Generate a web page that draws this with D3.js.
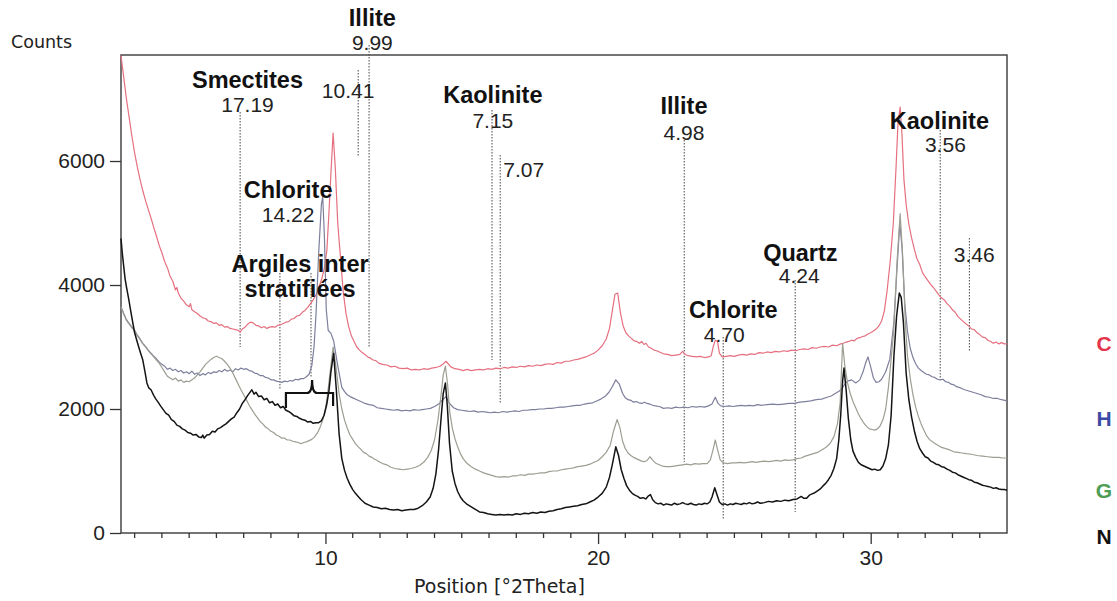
<!DOCTYPE html>
<html>
<head>
<meta charset="utf-8">
<script src="https://cdn.jsdelivr.net/npm/d3@7"></script>
<style>
  html, body { margin: 0; padding: 0; background: #fff; }
  svg { display: block; }
</style>
</head>
<body>
<svg id="chart" width="1117" height="601"></svg>
<script>
// XRD diffractograms of four clay preparations, [°2Theta, counts]
const seriesC = [[2.5,7700],[2.6,7350],[2.7,7000],[2.8,6700],[2.9,6400],[3.0,6130],[3.1,5900],[3.2,5700],[3.3,5520],[3.4,5360],[3.5,5220],[3.6,5080],[3.7,4930],[3.8,4790],[3.9,4640],[4.0,4520],[4.1,4380],[4.2,4280],[4.3,4140],[4.4,4060],[4.5,3920],[4.55,3960],[4.6,3870],[4.7,3790],[4.8,3740],[4.9,3680],[5.0,3650],[5.05,3700],[5.1,3600],[5.2,3570],[5.3,3540],[5.4,3500],[5.5,3470],[5.6,3460],[5.7,3420],[5.8,3410],[5.9,3380],[6.0,3390],[6.1,3350],[6.2,3360],[6.3,3320],[6.4,3330],[6.5,3300],[6.6,3290],[6.7,3280],[6.8,3270],[6.87,3240],[6.95,3290],[7.05,3320],[7.15,3370],[7.25,3400],[7.35,3390],[7.45,3350],[7.55,3340],[7.65,3310],[7.75,3330],[7.85,3300],[7.95,3320],[8.05,3330],[8.15,3320],[8.25,3350],[8.35,3360],[8.45,3380],[8.55,3400],[8.65,3410],[8.75,3450],[8.85,3460],[8.95,3500],[9.05,3510],[9.15,3560],[9.25,3590],[9.35,3640],[9.45,3700],[9.55,3760],[9.65,3840],[9.75,3950],[9.85,4080],[9.95,4250],[10.05,4550],[10.12,5100],[10.2,5800],[10.28,6450],[10.36,5900],[10.45,5000],[10.55,4450],[10.65,3900],[10.75,3550],[10.85,3330],[10.95,3180],[11.05,3090],[11.15,3000],[11.25,2950],[11.35,2910],[11.45,2880],[11.55,2840],[11.65,2820],[11.75,2790],[11.85,2780],[11.95,2740],[12.1,2720],[12.25,2710],[12.4,2680],[12.55,2690],[12.7,2660],[12.85,2650],[13.0,2660],[13.15,2630],[13.3,2640],[13.45,2630],[13.6,2650],[13.75,2640],[13.9,2660],[14.05,2670],[14.2,2690],[14.3,2720],[14.42,2770],[14.5,2730],[14.6,2680],[14.75,2650],[14.9,2640],[15.05,2620],[15.2,2640],[15.35,2620],[15.5,2630],[15.65,2640],[15.8,2630],[15.95,2650],[16.1,2640],[16.25,2660],[16.4,2650],[16.55,2670],[16.7,2660],[16.85,2680],[17.0,2670],[17.15,2690],[17.3,2680],[17.45,2700],[17.6,2690],[17.75,2710],[17.9,2700],[18.05,2720],[18.2,2730],[18.35,2720],[18.5,2750],[18.65,2740],[18.8,2770],[18.95,2770],[19.1,2790],[19.25,2800],[19.4,2820],[19.55,2840],[19.7,2870],[19.85,2900],[20.0,2950],[20.15,3020],[20.3,3130],[20.42,3300],[20.52,3580],[20.62,3850],[20.72,3870],[20.82,3550],[20.92,3340],[21.02,3230],[21.12,3180],[21.22,3140],[21.32,3100],[21.42,3090],[21.52,3060],[21.6,3090],[21.68,3040],[21.76,3060],[21.85,3000],[21.95,2980],[22.05,2950],[22.15,2940],[22.25,2920],[22.4,2890],[22.55,2880],[22.7,2860],[22.85,2870],[23.0,2880],[23.1,2930],[23.2,2880],[23.3,2860],[23.45,2850],[23.6,2840],[23.75,2850],[23.9,2830],[24.05,2840],[24.15,2860],[24.22,3000],[24.3,3110],[24.38,3090],[24.45,2900],[24.55,2840],[24.7,2850],[24.85,2860],[25.0,2850],[25.15,2870],[25.3,2880],[25.45,2870],[25.6,2890],[25.75,2880],[25.9,2910],[26.05,2900],[26.2,2920],[26.35,2910],[26.5,2930],[26.65,2920],[26.8,2940],[26.95,2930],[27.1,2950],[27.25,2940],[27.4,2960],[27.55,2970],[27.7,2960],[27.85,2990],[28.0,2980],[28.15,3000],[28.3,3010],[28.45,3000],[28.6,3030],[28.75,3020],[28.9,3050],[29.0,3060],[29.1,3080],[29.2,3090],[29.3,3110],[29.4,3100],[29.5,3140],[29.6,3150],[29.7,3170],[29.8,3180],[29.9,3210],[30.0,3230],[30.1,3260],[30.2,3290],[30.3,3340],[30.4,3420],[30.5,3580],[30.6,3900],[30.72,4400],[30.83,5000],[30.93,5900],[31.0,6600],[31.08,6870],[31.15,6400],[31.22,5700],[31.3,5300],[31.4,4980],[31.5,4760],[31.6,4580],[31.7,4420],[31.8,4330],[31.9,4200],[32.0,4130],[32.1,4070],[32.2,4010],[32.3,3960],[32.4,3900],[32.5,3840],[32.6,3790],[32.7,3760],[32.8,3700],[32.9,3660],[33.0,3600],[33.1,3560],[33.2,3490],[33.3,3450],[33.4,3410],[33.5,3370],[33.6,3340],[33.7,3290],[33.8,3280],[33.9,3230],[34.0,3200],[34.1,3160],[34.2,3150],[34.3,3110],[34.4,3090],[34.5,3060],[34.6,3080],[34.7,3050],[34.8,3070],[34.9,3050],[35.0,3050]];

const seriesH = [[2.5,3650],[2.6,3540],[2.7,3440],[2.8,3380],[2.9,3320],[3.0,3270],[3.1,3190],[3.2,3130],[3.3,3060],[3.4,3010],[3.5,2950],[3.6,2900],[3.7,2850],[3.8,2810],[3.9,2760],[4.0,2720],[4.1,2690],[4.2,2640],[4.3,2660],[4.4,2620],[4.5,2640],[4.6,2600],[4.7,2620],[4.8,2580],[4.9,2600],[5.0,2570],[5.1,2610],[5.2,2560],[5.3,2580],[5.4,2540],[5.5,2570],[5.6,2550],[5.7,2590],[5.8,2570],[5.9,2600],[6.0,2590],[6.1,2620],[6.2,2600],[6.3,2640],[6.4,2610],[6.5,2630],[6.6,2600],[6.7,2650],[6.8,2630],[6.9,2660],[7.0,2640],[7.1,2650],[7.2,2620],[7.3,2610],[7.4,2580],[7.5,2570],[7.6,2540],[7.7,2540],[7.8,2510],[7.9,2500],[8.0,2470],[8.1,2470],[8.2,2450],[8.3,2440],[8.4,2430],[8.5,2450],[8.6,2440],[8.7,2460],[8.8,2450],[8.9,2480],[9.0,2470],[9.1,2490],[9.2,2490],[9.3,2520],[9.4,2560],[9.5,2700],[9.58,3000],[9.65,3500],[9.75,4500],[9.85,5300],[9.9,5420],[9.96,4800],[10.03,3600],[10.1,3270],[10.2,3220],[10.3,3100],[10.45,2700],[10.6,2350],[10.7,2280],[10.8,2230],[10.9,2200],[11.0,2180],[11.15,2150],[11.3,2120],[11.45,2090],[11.6,2070],[11.75,2060],[11.9,2020],[12.05,2010],[12.2,2000],[12.35,1990],[12.5,1980],[12.65,1990],[12.8,1970],[12.95,1980],[13.1,1970],[13.25,1990],[13.4,1980],[13.55,1990],[13.7,2000],[13.85,2010],[14.0,2040],[14.15,2080],[14.3,2150],[14.42,2200],[14.55,2090],[14.7,2020],[14.85,1990],[15.0,1980],[15.15,1970],[15.3,1960],[15.45,1970],[15.6,1950],[15.75,1960],[15.9,1950],[16.05,1940],[16.2,1950],[16.35,1940],[16.5,1960],[16.65,1950],[16.8,1960],[16.95,1970],[17.1,1960],[17.25,1980],[17.4,1980],[17.55,1990],[17.7,1990],[17.85,2000],[18.0,2000],[18.15,2010],[18.3,2010],[18.45,2020],[18.6,2030],[18.75,2030],[18.9,2040],[19.05,2050],[19.2,2060],[19.35,2060],[19.5,2080],[19.65,2090],[19.8,2100],[19.95,2130],[20.1,2160],[20.25,2200],[20.4,2270],[20.52,2360],[20.65,2470],[20.78,2400],[20.9,2250],[21.0,2180],[21.1,2150],[21.2,2140],[21.3,2110],[21.4,2120],[21.5,2100],[21.6,2090],[21.7,2110],[21.8,2090],[21.9,2080],[22.0,2060],[22.1,2050],[22.25,2040],[22.4,2010],[22.55,2020],[22.7,2010],[22.85,2030],[23.0,2020],[23.15,2030],[23.3,2020],[23.45,2040],[23.6,2030],[23.75,2040],[23.9,2030],[24.05,2050],[24.18,2080],[24.3,2190],[24.4,2090],[24.5,2050],[24.65,2040],[24.8,2050],[24.95,2040],[25.1,2050],[25.25,2060],[25.4,2050],[25.55,2060],[25.7,2050],[25.85,2070],[26.0,2060],[26.2,2070],[26.4,2080],[26.6,2070],[26.8,2080],[27.0,2090],[27.2,2090],[27.4,2110],[27.6,2120],[27.8,2130],[28.0,2150],[28.2,2160],[28.4,2190],[28.55,2210],[28.7,2250],[28.85,2290],[28.95,2330],[29.05,2400],[29.15,2450],[29.3,2470],[29.45,2420],[29.6,2470],[29.72,2600],[29.82,2750],[29.9,2840],[30.0,2680],[30.1,2500],[30.2,2430],[30.3,2440],[30.4,2480],[30.55,2600],[30.7,2800],[30.85,3400],[30.97,4300],[31.07,5000],[31.15,4600],[31.25,3700],[31.35,3250],[31.45,2980],[31.55,2830],[31.65,2730],[31.75,2660],[31.85,2620],[31.95,2590],[32.05,2560],[32.15,2550],[32.25,2520],[32.35,2510],[32.45,2480],[32.55,2470],[32.65,2480],[32.75,2440],[32.85,2430],[32.95,2400],[33.05,2390],[33.15,2360],[33.3,2340],[33.45,2310],[33.6,2290],[33.75,2270],[33.9,2250],[34.05,2230],[34.2,2200],[34.35,2190],[34.5,2170],[34.65,2170],[34.8,2150],[35.0,2130]];

const seriesG = [[2.5,3640],[2.6,3530],[2.7,3430],[2.8,3370],[2.9,3310],[3.0,3260],[3.1,3180],[3.2,3120],[3.3,3050],[3.4,3000],[3.5,2940],[3.6,2890],[3.7,2840],[3.8,2790],[3.9,2740],[4.0,2670],[4.1,2600],[4.2,2530],[4.3,2500],[4.4,2470],[4.5,2500],[4.6,2450],[4.7,2470],[4.8,2430],[4.9,2450],[5.0,2440],[5.1,2470],[5.2,2500],[5.3,2550],[5.4,2600],[5.5,2660],[5.6,2720],[5.7,2760],[5.8,2800],[5.9,2830],[6.0,2850],[6.1,2830],[6.2,2810],[6.3,2770],[6.4,2720],[6.5,2660],[6.6,2580],[6.7,2490],[6.8,2400],[6.9,2310],[7.0,2230],[7.1,2150],[7.2,2060],[7.3,1990],[7.4,1920],[7.5,1860],[7.6,1800],[7.7,1760],[7.8,1710],[7.9,1680],[8.0,1640],[8.1,1620],[8.2,1580],[8.3,1560],[8.4,1530],[8.5,1530],[8.6,1500],[8.7,1500],[8.8,1480],[8.9,1470],[9.0,1460],[9.1,1440],[9.2,1460],[9.3,1470],[9.4,1490],[9.5,1510],[9.6,1550],[9.7,1610],[9.8,1700],[9.9,1820],[10.0,2000],[10.08,2250],[10.16,2550],[10.28,3000],[10.38,2700],[10.5,2250],[10.6,2000],[10.7,1820],[10.8,1690],[10.9,1580],[11.0,1510],[11.1,1440],[11.2,1390],[11.3,1350],[11.4,1300],[11.5,1280],[11.6,1240],[11.7,1220],[11.8,1190],[11.9,1170],[12.0,1140],[12.1,1120],[12.25,1100],[12.4,1060],[12.55,1040],[12.7,1030],[12.85,1020],[13.0,1030],[13.15,1040],[13.3,1060],[13.45,1090],[13.6,1140],[13.75,1220],[13.88,1330],[14.0,1500],[14.12,1800],[14.22,2150],[14.32,2550],[14.4,2690],[14.48,2400],[14.56,1950],[14.65,1700],[14.75,1520],[14.85,1390],[14.95,1280],[15.05,1200],[15.2,1120],[15.35,1070],[15.5,1030],[15.65,1000],[15.8,970],[15.95,950],[16.1,930],[16.25,910],[16.4,900],[16.55,910],[16.7,900],[16.85,920],[17.0,920],[17.15,940],[17.3,930],[17.45,950],[17.6,950],[17.75,960],[17.9,970],[18.05,970],[18.2,990],[18.35,1000],[18.5,1000],[18.65,1020],[18.8,1030],[18.95,1040],[19.1,1050],[19.25,1070],[19.4,1080],[19.55,1090],[19.7,1110],[19.85,1140],[20.0,1170],[20.15,1230],[20.3,1300],[20.45,1420],[20.57,1650],[20.7,1830],[20.8,1700],[20.9,1480],[21.0,1360],[21.1,1290],[21.2,1250],[21.3,1220],[21.4,1200],[21.5,1180],[21.6,1160],[21.7,1150],[21.8,1170],[21.9,1230],[22.0,1180],[22.1,1130],[22.2,1110],[22.35,1080],[22.5,1070],[22.65,1070],[22.8,1080],[22.95,1090],[23.1,1100],[23.25,1110],[23.4,1100],[23.55,1120],[23.7,1110],[23.85,1120],[24.0,1120],[24.12,1180],[24.22,1350],[24.3,1500],[24.38,1350],[24.48,1180],[24.6,1130],[24.75,1120],[24.9,1130],[25.05,1130],[25.2,1140],[25.35,1130],[25.5,1140],[25.65,1150],[25.8,1140],[25.95,1150],[26.1,1160],[26.25,1150],[26.4,1160],[26.55,1170],[26.7,1160],[26.85,1180],[27.0,1170],[27.15,1180],[27.3,1200],[27.45,1210],[27.6,1240],[27.75,1260],[27.9,1280],[28.05,1300],[28.2,1340],[28.35,1380],[28.5,1440],[28.65,1550],[28.78,1760],[28.88,2100],[28.97,3060],[29.05,2700],[29.15,2420],[29.25,2250],[29.35,2120],[29.45,2020],[29.55,1920],[29.65,1840],[29.75,1770],[29.85,1720],[29.95,1680],[30.05,1670],[30.15,1660],[30.25,1680],[30.35,1730],[30.45,1830],[30.55,2000],[30.65,2350],[30.75,2800],[30.85,3300],[30.97,4400],[31.08,5150],[31.17,4500],[31.27,3400],[31.35,2850],[31.45,2500],[31.55,2230],[31.65,2030],[31.75,1880],[31.85,1760],[31.95,1660],[32.05,1570],[32.15,1510],[32.3,1460],[32.45,1420],[32.6,1380],[32.75,1360],[32.9,1340],[33.05,1310],[33.2,1300],[33.35,1290],[33.5,1280],[33.7,1270],[33.9,1250],[34.1,1240],[34.3,1230],[34.5,1220],[34.7,1220],[34.85,1210],[35.0,1210]];

const seriesN = [[2.5,4750],[2.55,4500],[2.6,4300],[2.65,4100],[2.7,3970],[2.78,3780],[2.85,3600],[2.92,3420],[3.0,3230],[3.07,3120],[3.15,3000],[3.22,2900],[3.3,2790],[3.38,2600],[3.45,2420],[3.52,2340],[3.6,2310],[3.7,2220],[3.78,2160],[3.86,2110],[3.95,2050],[4.05,1990],[4.15,1930],[4.25,1900],[4.35,1830],[4.45,1800],[4.55,1740],[4.65,1720],[4.75,1680],[4.85,1660],[4.95,1620],[5.05,1610],[5.15,1580],[5.25,1590],[5.35,1550],[5.45,1540],[5.5,1580],[5.55,1530],[5.65,1580],[5.75,1590],[5.85,1640],[5.95,1630],[6.05,1680],[6.15,1700],[6.25,1730],[6.35,1760],[6.45,1800],[6.55,1840],[6.65,1870],[6.75,1940],[6.85,2000],[6.95,2090],[7.05,2150],[7.15,2220],[7.25,2280],[7.3,2310],[7.38,2240],[7.45,2270],[7.55,2200],[7.65,2210],[7.75,2150],[7.85,2170],[7.95,2100],[8.05,2120],[8.15,2060],[8.25,2080],[8.35,2020],[8.45,2040],[8.55,1980],[8.65,1960],[8.75,1930],[8.85,1890],[8.95,1880],[9.05,1850],[9.15,1830],[9.25,1820],[9.35,1790],[9.45,1800],[9.55,1770],[9.65,1780],[9.75,1780],[9.85,1810],[9.95,1900],[10.05,2080],[10.13,2300],[10.2,2600],[10.3,2900],[10.4,2300],[10.5,1600],[10.6,1200],[10.7,1010],[10.8,880],[10.9,780],[11.0,700],[11.1,640],[11.2,590],[11.3,540],[11.45,480],[11.6,450],[11.75,420],[11.9,410],[12.05,390],[12.2,400],[12.35,380],[12.5,370],[12.65,380],[12.8,360],[12.95,370],[13.1,380],[13.25,380],[13.4,400],[13.55,440],[13.7,500],[13.84,580],[13.95,720],[14.05,950],[14.15,1350],[14.25,1900],[14.32,2250],[14.4,2420],[14.47,2050],[14.55,1450],[14.65,1000],[14.75,800],[14.85,670],[14.95,580],[15.05,520],[15.2,460],[15.35,420],[15.5,380],[15.65,340],[15.8,330],[15.95,310],[16.1,300],[16.25,290],[16.4,300],[16.55,290],[16.7,300],[16.85,290],[17.0,310],[17.15,300],[17.3,320],[17.45,310],[17.6,330],[17.75,320],[17.9,340],[18.05,330],[18.2,350],[18.35,360],[18.5,380],[18.65,390],[18.8,410],[18.95,420],[19.1,430],[19.25,440],[19.4,460],[19.55,470],[19.7,500],[19.85,530],[20.0,580],[20.15,640],[20.3,740],[20.42,900],[20.52,1100],[20.65,1390],[20.75,1250],[20.85,1020],[20.95,880],[21.05,760],[21.15,690],[21.25,640],[21.35,610],[21.45,590],[21.55,560],[21.65,570],[21.75,550],[21.85,600],[21.92,620],[22.0,540],[22.1,490],[22.2,470],[22.3,480],[22.4,450],[22.5,470],[22.6,460],[22.7,450],[22.8,480],[22.9,460],[23.0,470],[23.1,490],[23.2,470],[23.3,460],[23.4,480],[23.5,460],[23.6,450],[23.7,470],[23.8,460],[23.9,480],[24.0,470],[24.1,500],[24.18,580],[24.28,730],[24.36,620],[24.45,500],[24.55,460],[24.65,470],[24.75,450],[24.85,470],[24.95,460],[25.05,480],[25.15,470],[25.25,460],[25.35,480],[25.45,470],[25.55,490],[25.65,470],[25.75,480],[25.85,500],[25.95,480],[26.1,490],[26.25,510],[26.4,500],[26.55,520],[26.7,510],[26.85,530],[27.0,520],[27.15,540],[27.3,550],[27.45,590],[27.55,560],[27.65,560],[27.75,610],[27.85,630],[27.95,650],[28.05,680],[28.15,710],[28.25,760],[28.35,800],[28.45,860],[28.55,930],[28.65,1040],[28.75,1200],[28.83,1500],[28.9,1900],[28.97,2450],[29.02,2660],[29.1,2300],[29.18,1850],[29.27,1500],[29.35,1320],[29.45,1220],[29.55,1140],[29.65,1100],[29.75,1080],[29.85,1060],[29.95,1040],[30.05,1020],[30.15,1030],[30.25,1010],[30.35,1020],[30.45,1080],[30.55,1200],[30.65,1420],[30.75,1900],[30.85,2840],[30.95,3500],[31.05,3870],[31.12,3800],[31.2,3400],[31.3,2580],[31.4,2150],[31.5,1870],[31.6,1650],[31.7,1480],[31.8,1360],[31.9,1290],[32.0,1230],[32.1,1210],[32.2,1160],[32.3,1140],[32.4,1110],[32.5,1100],[32.6,1070],[32.7,1060],[32.8,1030],[32.9,1010],[33.0,980],[33.1,970],[33.2,940],[33.3,920],[33.4,900],[33.5,880],[33.6,860],[33.7,850],[33.8,820],[33.9,810],[34.0,790],[34.1,770],[34.2,760],[34.3,750],[34.4,740],[34.5,720],[34.6,730],[34.7,710],[34.8,700],[34.9,700],[35.0,690]];

const seriesNames = ["C", "H", "G", "N"];
const xTickValues = [10, 20, 30];
const yTickValues = [0, 2000, 4000, 6000];

// Reflection markers: d-spacing (Å), line position (°2Theta) and extent (counts),
// mineral name and label anchors (°2Theta, counts at text baseline)
const peakMarks = [
  { d: "17.19", name: "Smectites", at: 6.87, from: 3000, to: 6790, lx: 7.14, ly: 6790, ny: 7177 },
  { d: "14.22", name: "Chlorite", at: 8.33, from: 2306, to: 4194, lx: 8.63, ly: 5016, ny: 5403 },
  { d: "", name: "", at: 9.47, from: 2500, to: 4194 },
  { d: "10.41", name: "", at: 11.20, from: 6065, to: 7468, lx: 10.83, ly: 7016 },
  { d: "9.99", name: "Illite", at: 11.60, from: 2984, to: 7871, lx: 11.72, ly: 7790, ny: 8177 },
  { d: "7.15", name: "Kaolinite", at: 16.11, from: 2790, to: 6823, lx: 16.14, ly: 6532, ny: 6935 },
  { d: "7.07", name: "", at: 16.41, from: 2097, to: 6097, lx: 16.52, ly: 5742, start: true },
  { d: "4.98", name: "Illite", at: 23.16, from: 1145, to: 6339, lx: 23.15, ly: 6339, ny: 6758 },
  { d: "4.70", name: "Chlorite", at: 24.59, from: 210, to: 3161, lx: 24.63, ly: 3081, ny: 3468, nx: 24.96 },
  { d: "4.24", name: "Quartz", at: 27.23, from: 339, to: 4081, lx: 27.38, ly: 4032, ny: 4387, nx: 27.42 },
  { d: "3.56", name: "Kaolinite", at: 32.55, from: 2468, to: 6500, lx: 32.74, ly: 6145, ny: 6516, nx: 32.52 },
  { d: "3.46", name: "", at: 33.62, from: 2919, to: 4758, lx: 33.80, ly: 4371 }
];

const groupLabel = { lines: ["Argiles inter", "stratifiées"], x: 9.07, y: [4210, 3806] };
// brace spanning the interstratified reflections
const brace = { x0: 8.55, xm: 9.51, x1: 10.28, base: 2016, bar: 2258, tip: 2468, end: 2050 };

const svg = d3.select("#chart");
const margin = { left: 121, top: 55, right: 110, bottom: 68 };
const W = 1117, H = 601;

const x = d3.scaleLinear().domain([2.5, 35]).range([margin.left, W - margin.right]);
const y = d3.scaleLinear().domain([0, 7710]).range([H - margin.bottom, margin.top]);

const colors = { C: "#e5707f", H: "#7d7f9c", G: "#9c9e92", N: "#141414" };
const widths = { C: 1.2, H: 1.2, G: 1.2, N: 1.5 };
const legendColors = { C: "#e3344c", H: "#3c4aa6", G: "#4d9d55", N: "#111" };

const line = d3.line().x(d => x(d[0])).y(d => y(d[1]));

// plot frame
svg.append("rect")
  .attr("x", x(2.5)).attr("y", y(7710))
  .attr("width", x(35) - x(2.5)).attr("height", y(0) - y(7710))
  .attr("fill", "none").attr("stroke", "#3a3a3a").attr("stroke-width", 1.4);

// reflection marker lines
const marks = svg.append("g");
peakMarks.forEach(m => {
  marks.append("line")
    .attr("x1", x(m.at)).attr("x2", x(m.at))
    .attr("y1", y(m.to)).attr("y2", y(m.from))
    .attr("stroke", "#444").attr("stroke-width", 1)
    .attr("stroke-dasharray", "1.5,1.5");
});

// diffractograms, back to front
const data = { C: seriesC, H: seriesH, G: seriesG, N: seriesN };
["C", "H", "G", "N"].forEach(k => {
  svg.append("path")
    .datum(data[k])
    .attr("d", line)
    .attr("fill", "none")
    .attr("stroke", colors[k])
    .attr("stroke-width", widths[k])
    .attr("stroke-linejoin", "round");
});

// brace
const bp = d3.path();
bp.moveTo(x(brace.x0), y(brace.base));
bp.lineTo(x(brace.x0), y(brace.bar));
bp.lineTo(x(brace.xm) - 5, y(brace.bar));
bp.quadraticCurveTo(x(brace.xm), y(brace.bar), x(brace.xm), y(brace.tip));
bp.quadraticCurveTo(x(brace.xm), y(brace.bar), x(brace.xm) + 5, y(brace.bar));
bp.lineTo(x(brace.x1), y(brace.bar));
bp.lineTo(x(brace.x1), y(brace.end));
svg.append("path").attr("d", bp.toString())
  .attr("fill", "none").attr("stroke", "#111").attr("stroke-width", 2.2);

// axes
const xAxis = d3.axisBottom(x).tickValues(xTickValues).tickFormat(d3.format("d"))
  .tickSize(11).tickSizeOuter(0).tickPadding(6);
const gx = svg.append("g").attr("transform", `translate(0,${y(0)})`).call(xAxis);
gx.select(".domain").remove();
gx.selectAll("line").attr("stroke", "#333").attr("stroke-width", 1.3);
gx.selectAll("text").attr("font-family", "Liberation Sans, Arial, sans-serif")
  .attr("font-size", 21).attr("fill", "#222");

const minor = d3.range(3, 35).filter(v => !xTickValues.includes(v));
svg.append("g").selectAll("line").data(minor).join("line")
  .attr("x1", d => x(d)).attr("x2", d => x(d))
  .attr("y1", y(0)).attr("y2", y(0) + 5)
  .attr("stroke", "#333").attr("stroke-width", 1.3);

const yAxis = d3.axisLeft(y).tickValues(yTickValues).tickFormat(d3.format("d"))
  .tickSize(11).tickSizeOuter(0).tickPadding(5);
const gy = svg.append("g").attr("transform", `translate(${x(2.5)},0)`).call(yAxis);
gy.select(".domain").remove();
gy.selectAll("line").attr("stroke", "#333").attr("stroke-width", 1.3);
gy.selectAll("text").attr("font-family", "Liberation Sans, Arial, sans-serif")
  .attr("font-size", 21).attr("fill", "#222");

// axis titles
svg.append("text").attr("x", 11).attr("y", 48)
  .attr("font-family", "DejaVu Sans, sans-serif").attr("font-size", 17.5).attr("fill", "#222")
  .text("Counts");
svg.append("text").attr("x", 414).attr("y", 593)
  .attr("font-family", "DejaVu Sans, sans-serif").attr("font-size", 19).attr("fill", "#222")
  .text("Position [°2Theta]");

// marker labels
const lab = svg.append("g").attr("font-family", "Liberation Sans, Arial, sans-serif").attr("fill", "#111");
peakMarks.forEach(m => {
  if (m.d) {
    lab.append("text").attr("x", x(m.lx)).attr("y", y(m.ly))
      .attr("text-anchor", m.start ? "start" : "middle")
      .attr("font-size", 21).attr("fill", "#222").text(m.d);
  }
  if (m.name) {
    lab.append("text").attr("x", x(m.nx !== undefined ? m.nx : m.lx)).attr("y", y(m.ny))
      .attr("text-anchor", "middle").attr("font-weight", "bold")
      .attr("font-size", 23.5).text(m.name);
  }
});
groupLabel.lines.forEach((t, i) => {
  lab.append("text").attr("x", x(groupLabel.x)).attr("y", y(groupLabel.y[i]))
    .attr("text-anchor", "middle").attr("font-weight", "bold").attr("font-size", 23.5).text(t);
});

// sample legend
const legendY = [351, 426, 498, 544];
svg.append("g").selectAll("text").data(seriesNames).join("text")
  .attr("x", 1104).attr("y", (d, i) => legendY[i])
  .attr("text-anchor", "middle")
  .attr("font-family", "Liberation Sans, Arial, sans-serif")
  .attr("font-weight", "bold").attr("font-size", 21)
  .attr("fill", d => legendColors[d])
  .text(d => d);
</script>
</body>
</html>
